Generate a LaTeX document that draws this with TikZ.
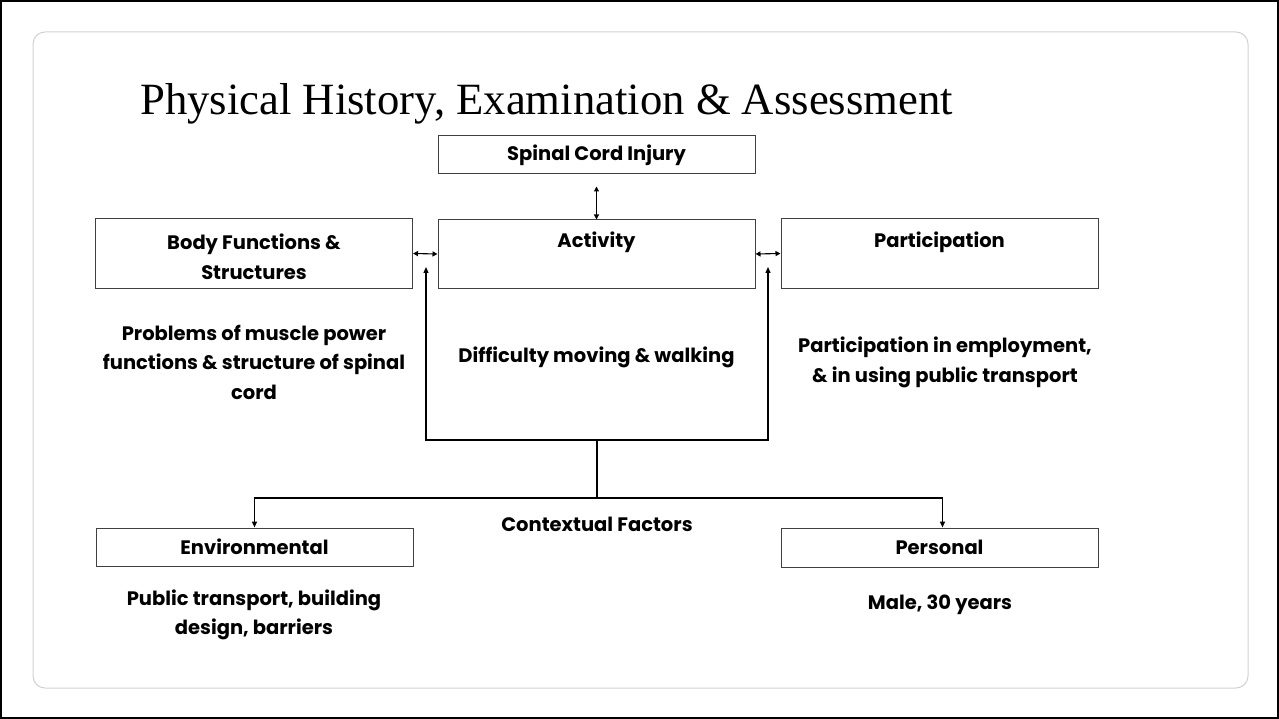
\documentclass[tikz,border=0pt]{standalone}
\usepackage{fontspec}
\setmainfont{Poppins}
\newfontfamily\titlefont{Liberation Serif}
\usetikzlibrary{arrows.meta}
\begin{document}
\begin{tikzpicture}[x=1pt,y=-1pt,
 box/.style={draw=black!75, line width=1pt, minimum width=317pt, inner sep=0pt},
 lbl/.style={font=\fontsize{19.5}{29.5}\selectfont\bfseries, align=center, inner sep=0pt},
 conn/.style={line width=1.6pt, -{Triangle[length=6pt,width=5pt]}},
 dbl/.style={line width=1.1pt, {Triangle[length=5pt,width=5pt]}-{Triangle[length=5pt,width=5pt]}},
]
\useasboundingbox (0,0) rectangle (1279,719);
\draw[line width=2pt] (1,1) rectangle (1278,718);
\draw[draw=black!18, line width=1pt, rounded corners=12pt] (33,32) rectangle (1248,688);
\node[anchor=base west, inner sep=0pt, font=\titlefont\fontsize{44.7}{50}\selectfont] (title) at (140,115) {Physical History, Examination \& Assessment};

\node[box, minimum height=38pt] (sci) at (596.5,155) {};
\node[box, minimum height=68pt] (act) at (596.5,254) {};
\node[box, minimum height=69pt] (bf) at (254,253.5) {};
\node[box, minimum height=69pt] (par) at (939.5,253.5) {};
\node[box, minimum height=38pt] (env) at (254.5,547) {};
\node[box, minimum height=39pt] (per) at (939.5,547.5) {};

\node[lbl] (sciT) at (sci) {Spinal Cord Injury};
\node[lbl] (actT) at (596.5,242) {Activity};
\node[lbl] (bfT) at (254,257) {Body Functions \&\\Structures};
\node[lbl] (parT) at (939.5,242) {Participation};
\node[lbl] (envT) at (env) {Environmental};
\node[lbl] (perT) at (per) {Personal};
\node[lbl] (prob) at (254,362) {Problems of muscle power\\functions \& structure of spinal\\cord};
\node[lbl] (diff) at (596.5,357) {Difficulty moving \& walking};
\node[lbl] (partT) at (945,362.5) {Participation in employment,\\\& in using public transport};
\node[lbl] (ctx) at (597,524) {Contextual Factors};
\node[lbl] (envD) at (254,615) {Public transport, building\\design, barriers};
\node[lbl] (perD) at (940,605) {Male, 30 years};

\draw[dbl] ([yshift=-12pt]sci.south) -- (act.north);
\draw[dbl] (bf.east) -- (act.west);
\draw[dbl] (act.east) -- (par.west);

\coordinate (ltip) at (426,267);
\coordinate (lbot) at (426,440);
\coordinate (rbot) at (768,440);
\coordinate (rtip) at (768,267);
\draw[line width=1.3pt, {Triangle[length=6pt,width=5pt]}-{Triangle[length=6pt,width=5pt]}] (ltip) -- (lbot) -- (rbot) -- (rtip);

\coordinate (mid) at (597,440);
\coordinate (split) at (597,498);
\draw[line width=1.6pt] (mid) -- (split);
\draw[conn] (split) -| (env.north);
\draw[conn] (split) -| ([xshift=3pt]per.north);
\end{tikzpicture}
\end{document}
